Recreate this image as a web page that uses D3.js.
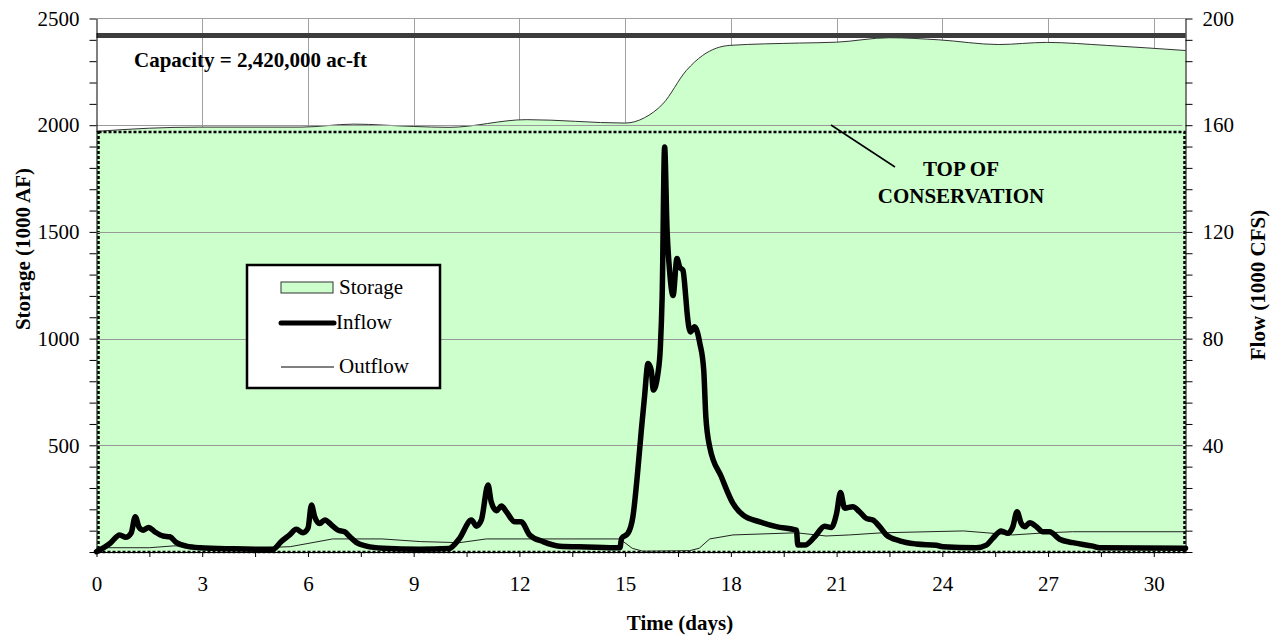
<!DOCTYPE html>
<html>
<head>
<meta charset="utf-8">
<script src="https://cdn.jsdelivr.net/npm/d3@7"></script>
<style>
  body { margin: 0; background: #fff; }
  svg text { font-family: "Liberation Serif", "Times New Roman", serif; fill: #000; }
</style>
</head>
<body>
<svg id="chart" width="1276" height="639"></svg>
<script>
// reservoir storage, 1000 AF (left axis)
const storageDays = [0, 1.5, 2.9, 5.8, 7.3, 9.0, 10.0, 12.2, 15.0, 15.55, 16.07, 16.74, 17.2, 17.97, 19.95, 21.0, 22.5, 23.9, 25.6, 26.95, 28.65, 30.9];
const storageVals = [1971, 1986, 1991, 1991, 2005, 1994, 1990, 2026, 2010, 2035, 2100, 2257, 2327, 2374, 2385, 2389, 2410, 2400, 2378, 2388, 2374, 2350];

// inflow, 1000 CFS (right axis)
const inflowDays = [0, 0.38, 0.66, 0.83, 0.98, 1.1, 1.21, 1.32, 1.48, 1.65, 1.89, 2.08, 2.27, 2.55, 2.93, 3.87, 5.0,
  5.24, 5.48, 5.67, 5.86, 6.0, 6.1, 6.19, 6.33, 6.48, 6.67, 6.85, 7.04, 7.19, 7.38, 7.66, 8.13, 9.17, 10.0,
  10.3, 10.64, 10.78, 10.92, 11.11, 11.2, 11.35, 11.49, 11.63, 11.87, 12.05, 12.29, 12.67, 13.14, 13.9, 14.85,
  14.9, 15.08, 15.22, 15.36, 15.46, 15.55, 15.65, 15.74, 15.8, 15.93, 16.0, 16.05, 16.12, 16.19, 16.26, 16.36,
  16.47, 16.55, 16.64, 16.72, 16.76, 16.85, 16.97, 17.12, 17.23, 17.29, 17.4, 17.73, 18.06, 18.34, 18.82, 19.29,
  19.86, 19.9, 20.1, 20.38, 20.66, 20.85, 21.0, 21.11, 21.23, 21.46, 21.65, 21.84, 22.03, 22.22, 22.41, 22.79,
  23.26, 23.83, 24.02, 24.96, 25.25, 25.43, 25.67, 25.86, 26.0, 26.12, 26.24, 26.34, 26.48, 26.67, 26.85, 27.04,
  27.33, 27.7, 28.27, 28.46, 30.9];
const inflowVals = [0.1, 3.2, 6.4, 5.5, 7.0, 13.2, 9.2, 8.2, 9.2, 7.6, 6.0, 5.7, 3.5, 2.2, 1.6, 1.2, 1.0,
  3.9, 6.4, 8.5, 7.2, 8.9, 17.6, 13.2, 10.7, 12.0, 10.1, 8.2, 7.6, 5.7, 3.5, 2.2, 1.4, 1.0, 1.3,
  5.1, 12.0, 9.7, 12.0, 25.1, 18.8, 15.5, 17.2, 15.1, 11.3, 11.3, 6.4, 3.9, 2.2, 1.9, 1.6,
  5.1, 7.0, 13.2, 30.7, 45.7, 58.2, 70.7, 68.2, 60.7, 66.9, 76.9, 95.6, 151.8, 120.6, 105.6, 96.2,
  110.0, 106.8, 105.6, 95.6, 89.4, 82.5, 84.4, 78.2, 68.2, 50.7, 39.4, 28.2, 18.2, 13.9, 11.3, 9.5,
  8.2, 2.6, 2.6, 5.7, 9.7, 9.2, 14.5, 22.3, 16.4, 17.0, 15.1, 12.6, 12.0, 9.5, 6.4, 4.2,
  3.0, 2.5, 2.0, 1.6, 2.6, 5.1, 7.9, 7.0, 9.5, 15.1, 10.7, 9.5, 11.0, 9.5, 7.6, 7.6,
  4.8, 3.5, 2.2, 1.6, 1.4];

// outflow, 1000 CFS (right axis)
const outflowDays = [0, 1.5, 2.2, 3.0, 4.7, 5.5, 6.0, 6.7, 8.1, 9.2, 10.3, 11.06, 14.85, 15.2, 15.5, 16.83, 17.1, 17.4, 18.06, 19.86, 20.7, 21.37, 22.3, 24.6, 26.0, 26.95, 27.7, 30.9];
const outflowVals = [1.6, 1.6, 2.3, 2.0, 1.6, 2.0, 3.2, 4.9, 4.9, 3.9, 3.5, 4.9, 4.9, 1.4, 0.3, 0.5, 1.4, 4.9, 6.4, 7.2, 6.0, 6.4, 7.2, 7.9, 6.4, 7.2, 7.6, 7.6];

const capacity = 2420;       // 1000 AF
const conservation = 1970;   // 1000 AF
const dayMax = 30.9;
const legendLabels = ["Storage", "Inflow", "Outflow"];

const storage = storageDays.map((d, i) => [d, storageVals[i]]);
const inflow = inflowDays.map((d, i) => [d, inflowVals[i]]);
const outflow = outflowDays.map((d, i) => [d, outflowVals[i]]);

const plot = { left: 96.5, right: 1185.5, top: 18.5, bottom: 552 };
const svg = d3.select("#chart");

const x = d3.scaleLinear().domain([0, dayMax]).range([plot.left, plot.right]);
const yL = d3.scaleLinear().domain([0, 2500]).range([plot.bottom, plot.top]);
const yR = d3.scaleLinear().domain([0, 200]).range([plot.bottom, plot.top]);

// vertical grid + top border
svg.append("g").selectAll("line")
  .data(d3.range(3, 31, 3))
  .enter().append("line")
  .attr("x1", d => Math.round(x(d)) + 0.5).attr("x2", d => Math.round(x(d)) + 0.5)
  .attr("y1", plot.top).attr("y2", plot.bottom)
  .attr("stroke", "#a0a0a0").attr("stroke-width", 1);
svg.append("line")
  .attr("x1", plot.left).attr("x2", plot.right)
  .attr("y1", yL(2500)).attr("y2", yL(2500))
  .attr("stroke", "#a0a0a0");

// storage area
svg.append("path").datum(storage)
  .attr("d", d3.area().x(d => x(d[0])).y0(yL(0)).y1(d => yL(d[1])).curve(d3.curveMonotoneX))
  .attr("fill", "#ccffcc");
svg.append("path").datum(storage)
  .attr("d", d3.line().x(d => x(d[0])).y(d => yL(d[1])).curve(d3.curveMonotoneX))
  .attr("fill", "none").attr("stroke", "#333").attr("stroke-width", 1);

// top of conservation pool (dotted box)
const consTop = Math.round(yL(conservation));
svg.append("rect")
  .attr("x", Math.round(x(0)) + 1.5).attr("y", consTop)
  .attr("width", Math.round(x(dayMax)) - Math.round(x(0)) - 3).attr("height", plot.bottom - consTop)
  .attr("fill", "none").attr("stroke", "#000").attr("stroke-width", 2.5)
  .attr("stroke-dasharray", "3,2");

// horizontal grid (secondary axis, drawn over area)
svg.append("g").selectAll("line")
  .data([40, 80, 120, 160])
  .enter().append("line")
  .attr("x1", plot.left).attr("x2", plot.right - 3)
  .attr("y1", d => Math.round(yR(d)) + 0.5).attr("y2", d => Math.round(yR(d)) + 0.5)
  .attr("stroke", "#999").attr("stroke-width", 1);

// capacity line
svg.append("line")
  .attr("x1", plot.left).attr("x2", plot.right)
  .attr("y1", yL(capacity)).attr("y2", yL(capacity))
  .attr("stroke", "#3c3c3c").attr("stroke-width", 5);

// flows
svg.append("path").datum(outflow)
  .attr("d", d3.line().x(d => x(d[0])).y(d => yR(d[1])))
  .attr("fill", "none").attr("stroke", "#222").attr("stroke-width", 1);
svg.append("path").datum(inflow)
  .attr("d", d3.line().x(d => x(d[0])).y(d => yR(d[1])).curve(d3.curveMonotoneX))
  .attr("fill", "none").attr("stroke", "#000").attr("stroke-width", 5.5)
  .attr("stroke-linejoin", "round").attr("stroke-linecap", "round");

// axes
const fontSize = 21;
const xAxis = svg.append("g").attr("transform", `translate(0,${plot.bottom})`)
  .call(d3.axisBottom(x).tickValues(d3.range(0, 31, 1.5))
    .tickFormat(d => d % 3 === 0 ? d : "").tickSize(5).tickSizeOuter(0).tickPadding(19));
const leftAxis = svg.append("g").attr("transform", `translate(${plot.left},0)`)
  .call(d3.axisLeft(yL).tickValues(d3.range(0, 2501, 100))
    .tickFormat(d => d % 500 === 0 && d > 0 ? d : "").tickSize(7).tickSizeOuter(0).tickPadding(10));
const rightAxis = svg.append("g").attr("transform", `translate(${plot.right},0)`)
  .call(d3.axisRight(yR).tickValues(d3.range(0, 201, 8))
    .tickFormat(d => d % 40 === 0 && d > 0 ? d : "").tickSize(7).tickSizeOuter(0).tickPadding(10));
[xAxis, leftAxis, rightAxis].forEach(a => {
  a.attr("font-size", fontSize).attr("font-family", null);
  a.selectAll("path, line").attr("stroke", "#000");
});

// axis titles
svg.append("text")
  .attr("x", 680).attr("y", 630)
  .attr("text-anchor", "middle").attr("font-weight", "bold").attr("font-size", fontSize)
  .text("Time (days)");
svg.append("text")
  .attr("transform", "translate(30,249) rotate(-90)")
  .attr("text-anchor", "middle").attr("font-weight", "bold").attr("font-size", fontSize)
  .text("Storage (1000 AF)");
svg.append("text")
  .attr("transform", "translate(1265,285) rotate(-90)")
  .attr("text-anchor", "middle").attr("font-weight", "bold").attr("font-size", fontSize)
  .text("Flow (1000 CFS)");

// annotations
svg.append("text")
  .attr("x", 134).attr("y", 67)
  .attr("font-weight", "bold").attr("font-size", fontSize)
  .text("Capacity = 2,420,000 ac-ft");
svg.append("line")
  .attr("x1", 831).attr("y1", 125).attr("x2", 895).attr("y2", 167)
  .attr("stroke", "#000").attr("stroke-width", 1.5);
svg.append("text")
  .attr("x", 961).attr("y", 176)
  .attr("text-anchor", "middle").attr("font-weight", "bold").attr("font-size", fontSize)
  .text("TOP OF");
svg.append("text")
  .attr("x", 961).attr("y", 203)
  .attr("text-anchor", "middle").attr("font-weight", "bold").attr("font-size", fontSize)
  .text("CONSERVATION");

// legend
const legend = svg.append("g").attr("transform", "translate(247,265)");
legend.append("rect")
  .attr("width", 193).attr("height", 123)
  .attr("fill", "#fff").attr("stroke", "#000").attr("stroke-width", 2.5);
const rowY = [23, 58, 102];
legendLabels.forEach((label, i) => {
  const g = legend.append("g").attr("transform", `translate(0,${rowY[i]})`);
  if (i === 0) {
    g.append("rect").attr("x", 34).attr("y", -6).attr("width", 52).attr("height", 11)
      .attr("fill", "#ccffcc").attr("stroke", "#333").attr("stroke-width", 1);
  } else {
    g.append("line").attr("x1", 34).attr("x2", 87).attr("y1", 0).attr("y2", 0)
      .attr("stroke", "#000").attr("stroke-width", i === 1 ? 5 : 1)
      .attr("stroke-linecap", i === 1 ? "round" : "butt");
  }
  g.append("text")
    .attr("x", i === 1 ? 89 : 92).attr("y", 6)
    .attr("font-size", fontSize)
    .text(label);
});
</script>
</body>
</html>
